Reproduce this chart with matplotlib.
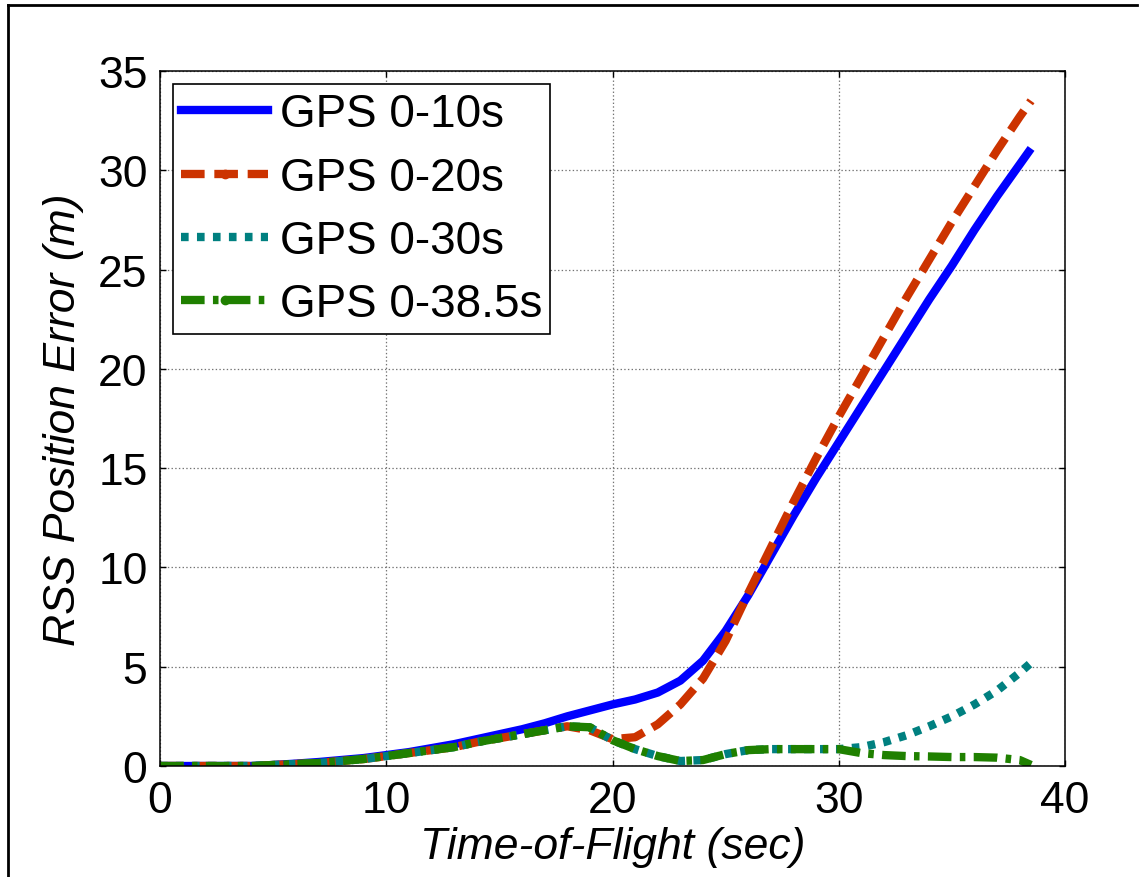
import matplotlib
matplotlib.use("Agg")
import matplotlib.pyplot as plt
from matplotlib.lines import Line2D

# Time axis (sec) and RSS position error (m) for each GPS-availability window
time_s = [0, 1, 2, 3, 4, 5, 6, 7, 8, 9, 10, 11, 12, 13, 14, 15, 16, 17, 18, 19,
          20, 21, 22, 23, 24, 25, 26, 27, 28, 29, 30, 31, 32, 33, 34, 35, 36, 37, 38, 38.5]

gps_10 = [0, 0, 0, 0, 0, 0.05, 0.12, 0.2, 0.3, 0.4, 0.55, 0.7, 0.9, 1.1, 1.35, 1.6, 1.85, 2.15, 2.5, 2.8,
          3.1, 3.35, 3.7, 4.3, 5.3, 6.8, 8.6, 10.6, 12.6, 14.5, 16.3, 18.1, 19.9, 21.7, 23.5, 25.2, 27.0, 28.7, 30.3, 31.1]

gps_20 = [0, 0, 0, 0, 0, 0.05, 0.1, 0.15, 0.25, 0.35, 0.5, 0.65, 0.8, 0.95, 1.2, 1.4, 1.6, 1.8, 2.0, 1.8,
          1.35, 1.45, 2.1, 3.1, 4.4, 6.3, 8.7, 11.0, 13.3, 15.5, 17.6, 19.6, 21.6, 23.6, 25.5, 27.4, 29.2, 31.0, 32.7, 33.5]

gps_30 = [0, 0, 0, 0, 0, 0.05, 0.1, 0.15, 0.25, 0.35, 0.5, 0.65, 0.8, 0.95, 1.2, 1.4, 1.6, 1.8, 2.0, 1.95,
          1.3, 0.85, 0.5, 0.25, 0.3, 0.6, 0.8, 0.85, 0.85, 0.85, 0.85, 0.95, 1.2, 1.55, 2.0, 2.5, 3.1, 3.8, 4.7, 5.2]

gps_385 = [0, 0, 0, 0, 0, 0.05, 0.1, 0.15, 0.25, 0.35, 0.5, 0.65, 0.8, 0.95, 1.2, 1.4, 1.6, 1.8, 2.0, 1.95,
           1.3, 0.85, 0.5, 0.25, 0.3, 0.6, 0.8, 0.85, 0.85, 0.85, 0.85, 0.65, 0.55, 0.5, 0.48, 0.45, 0.45, 0.42, 0.3, 0.05]

labels = ["GPS 0-10s", "GPS 0-20s", "GPS 0-30s", "GPS 0-38.5s"]
x_ticks = [0, 10, 20, 30, 40]
y_ticks = [0, 5, 10, 15, 20, 25, 30, 35]

plt.rcParams['font.family'] = ['Liberation Sans', 'DejaVu Sans']
plt.rcParams['lines.scale_dashes'] = False

fig = plt.figure(figsize=(11.4, 8.78), dpi=100)
ax = fig.add_axes([160 / 1140, 1 - 767 / 878, 905 / 1140, 695 / 878])

lw = 6
blue, red, teal, green = '#0000ff', '#cc3300', '#008080', '#1f8000'
styles = [
    dict(color=blue, ls='-'),
    dict(color=red, dashes=(17, 7)),
    dict(color=teal, dashes=(5.5, 6)),
    dict(color=green, dashes=(17, 6, 4, 6)),
]

for ys, st in zip([gps_10, gps_20, gps_30, gps_385], styles):
    ax.plot(time_s, ys, lw=lw, dash_capstyle='butt', solid_capstyle='butt', **st)

# legend proxies (the dashed ones carry a dot in the middle, like the original)
handles = [
    Line2D([], [], lw=lw, **styles[0]),
    Line2D([], [], lw=lw, marker='.', markersize=12, dash_capstyle='butt', **styles[1]),
    Line2D([], [], lw=lw, dash_capstyle='butt', **styles[2]),
    Line2D([], [], lw=lw, marker='.', markersize=12, dash_capstyle='butt', **styles[3]),
]
leg = ax.legend(handles, labels, loc='upper left', bbox_to_anchor=(0.0144, 0.981),
                borderaxespad=0, fontsize=33, fancybox=False, framealpha=1,
                edgecolor='black', handlelength=1.9, handletextpad=0.25,
                labelspacing=0.42, borderpad=0.18, numpoints=1)
leg.get_frame().set_linewidth(1.2)

ax.set_xlim(0, 40)
ax.set_ylim(0, 35)
ax.set_xticks(x_ticks)
ax.set_yticks(y_ticks)
ax.grid(True, ls=':', color='0.45', lw=0.9)
ax.tick_params(direction='in', length=4, width=1, labelsize=32, top=True, right=True)
ax.tick_params(axis='x', pad=10)
ax.tick_params(axis='y', pad=9)
for sp in ax.spines.values():
    sp.set_linewidth(1.1)

ax.set_xlabel('Time-of-Flight (sec)', fontsize=32, style='italic', labelpad=4)
ax.set_ylabel('RSS Position Error (m)', fontsize=32, style='italic', labelpad=10)

# frame around the figure (top and left edges only are visible)
fig.add_artist(Line2D([8 / 1140, 8 / 1140], [0, 1 - 6 / 878], color='black', lw=2, transform=fig.transFigure))
fig.add_artist(Line2D([8 / 1140, 1137 / 1140], [1 - 6 / 878, 1 - 6 / 878], color='black', lw=2, transform=fig.transFigure))

fig.savefig('out.png', dpi=100)
